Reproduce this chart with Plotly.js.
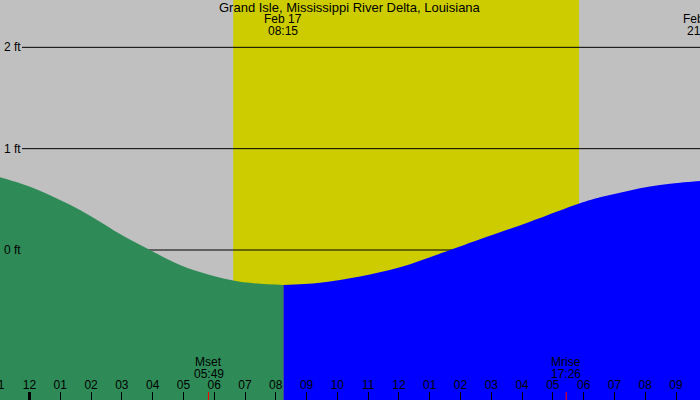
<!DOCTYPE html>
<html>
<head>
<meta charset="utf-8">
<script src="https://cdn.plot.ly/plotly-3.0.1.min.js"></script>
<style>html,body{margin:0;padding:0;background:#c0c0c0;}#chart{width:700px;height:400px;}</style>
</head>
<body>
<div id="chart"></div>
<script>
// Hours after midnight, Feb 17 (local), and tide height in feet
var tideHours = [-0.958, -0.309, 0.341, 0.991, 1.640, 2.290, 2.940, 3.914, 4.889, 5.863, 6.838, 8.25, 9.436, 10.735, 12.035, 13.659, 14.633, 16.257, 17.881, 18.531, 19.180, 19.830, 20.480, 21.129, 21.779];
var tideFeet  = [0.717, 0.658, 0.585, 0.493, 0.395, 0.280, 0.158, 0.000, -0.148, -0.247, -0.313, -0.345, -0.323, -0.261, -0.171, 0.000, 0.106, 0.279, 0.461, 0.520, 0.565, 0.609, 0.641, 0.664, 0.681];

var levelFeet   = [0, 1, 2];
var levelLabels = ["0 ft", "1 ft", "2 ft"];

var hourTicks  = [-1, 0, 1, 2, 3, 4, 5, 6, 7, 8, 9, 10, 11, 12, 13, 14, 15, 16, 17, 18, 19, 20, 21];
var hourLabels = ["11", "12", "01", "02", "03", "04", "05", "06", "07", "08", "09", "10", "11", "12", "01", "02", "03", "04", "05", "06", "07", "08", "09"];

var sunrise = 6 + 37/60;
var sunset  = 17 + 51/60;

var moonTimes  = [5 + 49/60, 17 + 26/60];
var moonNames  = ["Mset", "Mrise"];
var moonClock  = ["05:49", "17:26"];

var tideEventTimes = [8 + 15/60, 21 + 50/60];
var tideEventDates = ["Feb 17", "Feb 17"];
var tideEventClock = ["08:15", "21:50"];

var lowTideTime = 8.25;
var titleText = "Grand Isle, Mississippi River Delta, Louisiana";

var xRange = [-0.958, 21.779];
var yRange = [-1.480, 2.467];

function px(h) { return (h - xRange[0]) / (xRange[1] - xRange[0]); }

var F = "Liberation Sans, Arial, sans-serif";

// split into falling (green) and rising (blue)
var gX = [], gY = [], bX = [], bY = [];
for (var i = 0; i < tideHours.length; i++) {
  if (tideHours[i] <= lowTideTime) { gX.push(tideHours[i]); gY.push(tideFeet[i]); }
  if (tideHours[i] >= lowTideTime) { bX.push(tideHours[i]); bY.push(tideFeet[i]); }
}
var floor = yRange[0] - 1;

var traces = [
  {x: [gX[0], gX[gX.length-1]], y: [floor, floor], mode: "lines", line: {width: 0}, hoverinfo: "skip", showlegend: false},
  {x: gX, y: gY, mode: "lines", line: {width: 0, shape: "spline", smoothing: 1}, fill: "tonexty", fillcolor: "#2e8b57", hoverinfo: "skip", showlegend: false},
  {x: [bX[0], bX[bX.length-1]], y: [floor, floor], mode: "lines", line: {width: 0}, hoverinfo: "skip", showlegend: false},
  {x: bX, y: bY, mode: "lines", line: {width: 0, shape: "spline", smoothing: 1}, fill: "tonexty", fillcolor: "#0000ff", hoverinfo: "skip", showlegend: false}
];

var shapes = [
  {type: "rect", layer: "below", xref: "x", yref: "paper", x0: sunrise, x1: sunset, y0: 0, y1: 1, fillcolor: "#cccc00", line: {width: 0}}
];
levelFeet.forEach(function (v) {
  shapes.push({type: "line", layer: "below", xref: "paper", yref: "y", x0: 22/700, x1: 1, y0: v, y1: v, line: {color: "#000", width: 1}});
});
shapes.push({type: "line", layer: "above", xref: "x", yref: "paper", x0: 0, x1: 0, y0: 0, y1: 8/400, line: {color: "#000", width: 3}});
moonTimes.forEach(function (t) {
  shapes.push({type: "line", layer: "above", xref: "x", yref: "paper", x0: t, x1: t, y0: 0, y1: 8/400, line: {color: "#ff0000", width: 1}});
});

var ann = [];
ann.push({text: titleText, xref: "paper", yref: "paper", x: 0.5, y: 1 - 7.5/400, xanchor: "center", yanchor: "middle", showarrow: false, font: {family: F, size: 13, color: "#000"}});
levelFeet.forEach(function (v, i) {
  ann.push({text: levelLabels[i], xref: "paper", yref: "y", x: 2/700, y: v, xanchor: "left", yanchor: "middle", showarrow: false, font: {family: F, size: 12, color: "#000"}});
});
tideEventTimes.forEach(function (t, i) {
  ann.push({text: tideEventDates[i], xref: "paper", yref: "paper", x: px(t), y: 1 - 19.5/400, xanchor: "center", yanchor: "middle", showarrow: false, font: {family: F, size: 12, color: "#000"}});
  ann.push({text: tideEventClock[i], xref: "paper", yref: "paper", x: px(t), y: 1 - 31.5/400, xanchor: "center", yanchor: "middle", showarrow: false, font: {family: F, size: 12, color: "#000"}});
});
moonTimes.forEach(function (t, i) {
  ann.push({text: moonNames[i], xref: "paper", yref: "paper", x: px(t), y: 1 - 362/400, xanchor: "center", yanchor: "middle", showarrow: false, font: {family: F, size: 12, color: "#000"}});
  ann.push({text: moonClock[i], xref: "paper", yref: "paper", x: px(t), y: 1 - 373.5/400, xanchor: "center", yanchor: "middle", showarrow: false, font: {family: F, size: 12, color: "#000"}});
});
hourTicks.forEach(function (h, i) {
  if (h < xRange[0]) {
    ann.push({text: hourLabels[i], xref: "paper", yref: "paper", x: px(h), y: 1 - 385/400, xanchor: "center", yanchor: "middle", showarrow: false, font: {family: F, size: 12, color: "#000"}});
  }
});

var layout = {
  width: 700, height: 400,
  margin: {l: 0, r: 0, t: 0, b: 0, pad: 0},
  paper_bgcolor: "#c0c0c0", plot_bgcolor: "#c0c0c0",
  showlegend: false,
  xaxis: {range: xRange, showgrid: false, zeroline: false, showline: false,
          tickmode: "array", tickvals: hourTicks, ticktext: hourLabels,
          ticks: "inside", ticklen: 8, tickwidth: 1, tickcolor: "#000",
          ticklabelposition: "inside", tickfont: {family: F, size: 12, color: "#000"}, fixedrange: true},
  yaxis: {range: yRange, showgrid: false, zeroline: false, showline: false, showticklabels: false, ticks: "", fixedrange: true},
  shapes: shapes,
  annotations: ann
};

Plotly.newPlot("chart", traces, layout, {displayModeBar: false, staticPlot: true});
</script>
</body>
</html>
